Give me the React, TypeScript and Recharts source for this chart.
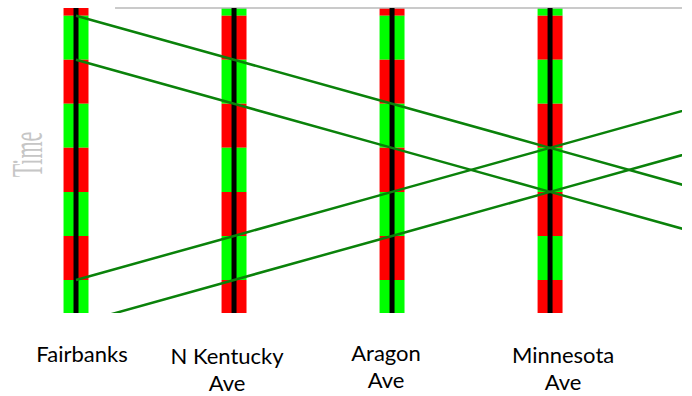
import React from "react";
import {
  ComposedChart,
  XAxis,
  YAxis,
  Line,
  ReferenceArea,
  ReferenceLine,
} from "recharts";

// Stations (distance index along the line)
const stationNames = ["Fairbanks", "N Kentucky Ave", "Aragon Ave", "Minnesota Ave"];
const stationPos = [0, 1, 2, 3];
const labelLines = [["Fairbanks"], ["N Kentucky", "Ave"], ["Aragon", "Ave"], ["Minnesota", "Ave"]];

// Signal phase boundaries (minutes) and colours per station
const phaseBounds = [-10, 0, 10, 20, 30, 40, 50, 60, 70];
const fairbanksSignal = ["red", "green", "red", "green", "red", "green", "red", "green"];
const kentuckySignal = ["green", "red", "green", "red", "green", "red", "green", "red"];
const aragonSignal = ["red", "green", "red", "green", "red", "green", "red", "green"];
const minnesotaSignal = ["green", "red", "green", "red", "green", "red", "green", "red"];
const signals = [fairbanksSignal, kentuckySignal, aragonSignal, minnesotaSignal];

// Train passing times (minutes) at station index 0..4
const trainStops = [0, 1, 2, 3, 4];
const train1 = [0, 10, 20, 30, 40];
const train2 = [10, 20, 30, 40, 50];
const train3 = [60, 50, 40, 30, 20];
const train4 = [70, 60, 50, 40, 30];
const trains = [train1, train2, train3, train4];

const COLORS: Record<string, string> = { red: "#ff0000", green: "#00ff00" };
const HALF = 0.079;
const X_DOMAIN: [number, number] = [-0.152, 3.835];
const Y_DOMAIN: [number, number] = [-1.75, 67.5];

const labelDx = [6, -7, -6, 13];
const labelBase = [[49], [51, 78], [48, 75], [50, 77]];

const StationTick = (props: any) => {
  const { x, y, payload } = props;
  const i = stationPos.indexOf(payload.value);
  if (i < 0) return null;
  const lines = labelLines[i];
  return (
    <g>
      {lines.map((ln, k) => (
        <text
          key={k}
          x={x + labelDx[i]}
          y={y + labelBase[i][k]}
          textAnchor="middle"
          fontFamily="Lato, 'Open Sans', sans-serif"
          fontSize={22}
          fill="#000"
        >
          {ln}
        </text>
      ))}
    </g>
  );
};

const TimeLabel = (props: any) => {
  const vb = props.viewBox || {};
  const bx = vb.x + 42;
  const cy = vb.y + vb.height / 2 - 6;
  return (
    <text
      x={0}
      y={0}
      transform={`translate(${bx}, ${cy}) rotate(-90) scale(1, 2)`}
      textAnchor="middle"
      fontFamily="'Liberation Serif', 'DejaVu Serif', serif"
      fontSize={22}
      fill="#c6c6c6"
    >
      Time
    </text>
  );
};

export default function App() {
  return (
    <div style={{ position: "absolute", left: 0, top: 0, width: 692, height: 396, background: "#fff" }}>
      <ComposedChart width={692} height={396} margin={{ top: 8, right: 10, bottom: 0, left: 0 }}>
        <XAxis
          type="number"
          dataKey="x"
          domain={X_DOMAIN}
          ticks={stationPos}
          allowDataOverflow
          axisLine={false}
          tickLine={false}
          tickSize={0}
          tickMargin={0}
          height={83}
          tick={<StationTick />}
          interval={0}
        />
        <YAxis
          type="number"
          dataKey="t"
          domain={Y_DOMAIN}
          reversed
          allowDataOverflow
          width={52}
          tick={false}
          axisLine={false}
          tickLine={false}
          label={<TimeLabel />}
        />
        <ReferenceLine
          segment={[
            { x: 0.247, y: Y_DOMAIN[0] },
            { x: X_DOMAIN[1], y: Y_DOMAIN[0] },
          ]}
          stroke="#b8b8b8"
          strokeWidth={1.5}
        />
        {signals.map((sig, si) =>
          sig.map((c, k) => (
            <ReferenceArea
              key={`s${si}-${k}`}
              x1={stationPos[si] - HALF}
              x2={stationPos[si] + HALF}
              y1={phaseBounds[k]}
              y2={phaseBounds[k + 1]}
              fill={COLORS[c]}
              fillOpacity={1}
              stroke="none"
              ifOverflow="hidden"
            />
          ))
        )}
        {stationPos.map((p) => (
          <ReferenceLine key={`c${p}`} x={p} stroke="#000" strokeWidth={5} />
        ))}
        {trains.map((tr, ti) => (
          <Line
            key={`t${ti}`}
            data={trainStops.map((s, k) => ({ x: s, t: tr[k] }))}
            dataKey="t"
            type="linear"
            stroke="#0a820a"
            strokeWidth={2.5}
            dot={false}
            activeDot={false}
            isAnimationActive={false}
          />
        ))}
      </ComposedChart>
    </div>
  );
}
